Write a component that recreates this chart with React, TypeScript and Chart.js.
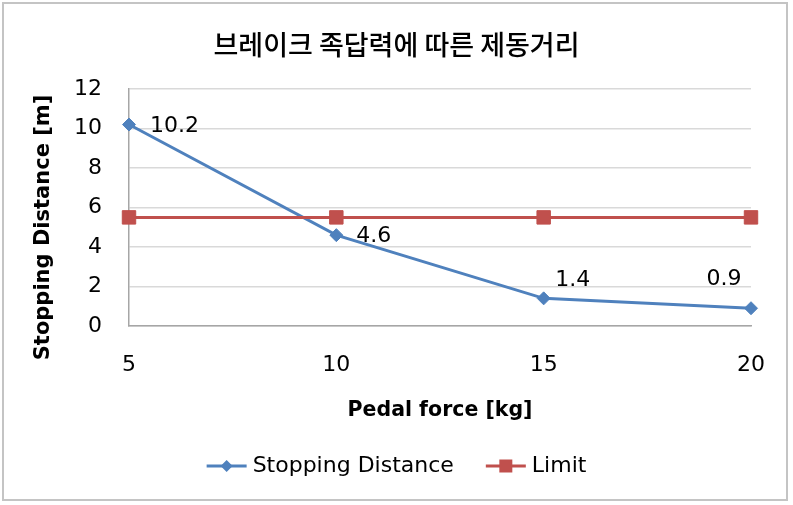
import { useEffect, useRef } from 'react';
import { Chart, registerables } from 'chart.js';

Chart.register(...registerables);

// ---- data ----
const pedalForce = ['5', '10', '15', '20'];
const stoppingDistance = [10.2, 4.6, 1.4, 0.9];
const limitValues = [5.5, 5.5, 5.5, 5.5];
const yMin = 0;
const yMax = 12;
const yStep = 2;
const chartTitle = '브레이크 족답력에 따른 제동거리';
const xAxisTitle = 'Pedal force [kg]';
const yAxisTitle = 'Stopping Distance [m]';
const seriesNames = ['Stopping Distance', 'Limit'];

// ---- styles ----
const BLUE = '#4F81BD';
const RED = '#C0504D';
const FONT = "'DejaVu Sans', sans-serif";
const KFONT = "'Noto Sans CJK KR', 'DejaVu Sans', sans-serif";
// per-point label placement relative to the point: [dx, dy, align]
const labelPlacement: [number, number, CanvasTextAlign][] = [
  [21, 2, 'left'],
  [20, 1, 'left'],
  [29, -18, 'center'],
  [-27, -29, 'center'],
];

const dataLabelPlugin = {
  id: 'dataLabels',
  afterDatasetsDraw(chart: any) {
    const ctx = chart.ctx as CanvasRenderingContext2D;
    const meta = chart.getDatasetMeta(0);
    const ds = chart.data.datasets[0];
    ctx.save();
    ctx.font = `22px ${FONT}`;
    ctx.fillStyle = '#000';
    ctx.textBaseline = 'middle';
    meta.data.forEach((pt: any, i: number) => {
      const [dx, dy, align] = labelPlacement[i];
      ctx.textAlign = align;
      ctx.fillText(String(ds.data[i]), pt.x + dx, pt.y + dy);
    });
    ctx.restore();
  },
};

const yTitlePlugin = {
  id: 'yTitle',
  afterDraw(chart: any) {
    const ctx = chart.ctx as CanvasRenderingContext2D;
    const a = chart.chartArea;
    ctx.save();
    ctx.translate(a.left - 85, (a.top + a.bottom) / 2 + 20);
    ctx.rotate(-Math.PI / 2);
    ctx.font = `bold 21px ${FONT}`;
    ctx.fillStyle = '#000';
    ctx.textAlign = 'center';
    ctx.textBaseline = 'middle';
    ctx.fillText(yAxisTitle, 0, 0);
    ctx.restore();
  },
};

function drawMarker(ctx: CanvasRenderingContext2D, style: string, x: number, y: number, r: number, color: string) {
  ctx.fillStyle = color;
  ctx.beginPath();
  if (style === 'rectRot') {
    ctx.moveTo(x - r, y);
    ctx.lineTo(x, y - r);
    ctx.lineTo(x + r, y);
    ctx.lineTo(x, y + r);
    ctx.closePath();
  } else {
    ctx.rect(x - r, y - r, 2 * r, 2 * r);
  }
  ctx.fill();
}

const legendPlugin = {
  id: 'lineLegend',
  afterDraw(chart: any) {
    const ctx = chart.ctx as CanvasRenderingContext2D;
    const y = chart.height - 39;
    const sym = 40;
    const gap = 6;
    const itemGap = 32;
    ctx.save();
    ctx.font = `22px ${FONT}`;
    const items = chart.data.datasets.map((d: any) => ({
      label: d.label as string,
      color: d.borderColor as string,
      style: d.pointStyle as string,
    }));
    const widths = items.map((it: any) => sym + gap + ctx.measureText(it.label).width);
    const total = widths.reduce((s: number, w: number) => s + w, 0) + itemGap * (items.length - 1);
    let x = (chart.width - total) / 2;
    items.forEach((it: any, i: number) => {
      ctx.strokeStyle = it.color;
      ctx.lineWidth = 3;
      ctx.beginPath();
      ctx.moveTo(x, y);
      ctx.lineTo(x + sym, y);
      ctx.stroke();
      drawMarker(ctx, it.style, x + sym / 2, y, it.style === 'rectRot' ? 6 : 6.5, it.color);
      ctx.fillStyle = '#000';
      ctx.textAlign = 'left';
      ctx.textBaseline = 'middle';
      ctx.fillText(it.label, x + sym + gap, y);
      x += widths[i] + itemGap;
    });
    ctx.restore();
  },
};

export default function App() {
  const canvasRef = useRef<HTMLCanvasElement | null>(null);

  useEffect(() => {
    const canvas = canvasRef.current;
    if (!canvas) return;
    const chart = new Chart(canvas, {
      type: 'line',
      data: {
        labels: pedalForce,
        datasets: [
          {
            label: seriesNames[0],
            data: stoppingDistance,
            borderColor: BLUE,
            backgroundColor: BLUE,
            borderWidth: 3,
            pointStyle: 'rectRot',
            pointRadius: 6.5,
            pointBorderWidth: 1,
            pointBorderColor: BLUE,
            pointBackgroundColor: BLUE,
            tension: 0,
            clip: false,
            order: 1,
          },
          {
            label: seriesNames[1],
            data: limitValues,
            borderColor: RED,
            backgroundColor: RED,
            borderWidth: 3,
            pointStyle: 'rect',
            pointRadius: 9.5,
            pointBorderWidth: 1,
            pointBorderColor: RED,
            pointBackgroundColor: RED,
            tension: 0,
            clip: false,
            order: 0,
          },
        ],
      } as any,
      options: {
        animation: false,
        responsive: false,
        events: [],
        layout: { padding: { top: 0, right: 0, bottom: 82, left: 0 } },
        plugins: {
          legend: { display: false },
          tooltip: { enabled: false },
          title: {
            display: true,
            text: chartTitle,
            color: '#000',
            font: { family: KFONT, size: 27, weight: 500 as any },
            padding: { top: 29, bottom: 27.6 },
          },
        },
        scales: {
          x: {
            type: 'category',
            offset: false,
            grid: { display: false, drawTicks: false },
            border: { display: true, color: '#a6a6a6', width: 1.5 },
            ticks: { padding: 26, color: '#000', font: { family: FONT, size: 22 } },
            title: {
              display: true,
              text: xAxisTitle,
              color: '#000',
              font: { family: FONT, size: 20.5, weight: 'bold' },
              padding: { top: 0, bottom: 0 },
            },
            afterFit: (s: any) => {
              s.height = 97;
              s.paddingRight = 42;
            },
          },
          y: {
            min: yMin,
            max: yMax,
            grid: { color: '#d9d9d9', lineWidth: 1.5, drawTicks: false },
            border: { display: true, color: '#a6a6a6', width: 1.5 },
            ticks: { stepSize: yStep, padding: 27, color: '#000', font: { family: FONT, size: 22 } },
            afterFit: (s: any) => {
              s.width = 129;
            },
          },
        },
      } as any,
      plugins: [dataLabelPlugin, yTitlePlugin, legendPlugin],
    });
    return () => chart.destroy();
  }, []);

  return (
    <div style={{ position: 'absolute', left: 0, top: 0, width: 793, height: 505, background: '#fff' }}>
      <canvas ref={canvasRef} width={793} height={505} style={{ display: 'block' }} />
      <div
        style={{
          position: 'absolute',
          left: 2,
          top: 2,
          width: 786,
          height: 499,
          boxSizing: 'border-box',
          border: '2px solid #c4c4c4',
          pointerEvents: 'none',
        }}
      />
    </div>
  );
}
